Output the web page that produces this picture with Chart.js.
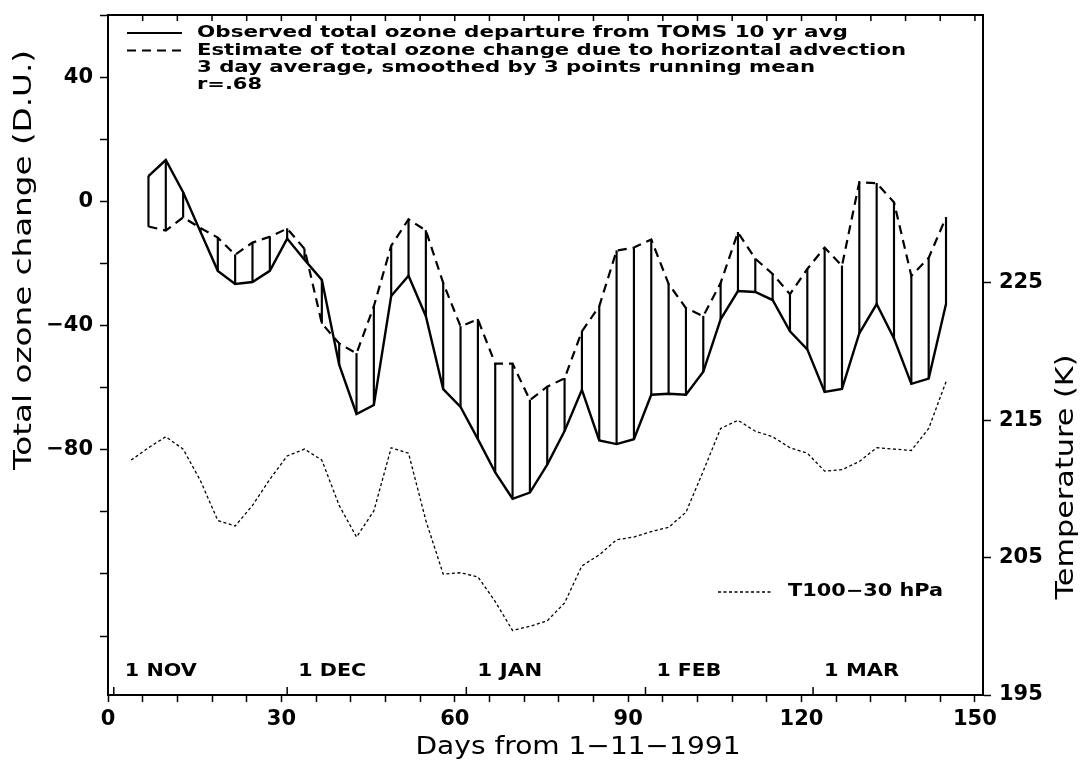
<!DOCTYPE html>
<html><head><meta charset="utf-8">
<script src="https://cdn.jsdelivr.net/npm/chart.js@4.4.1/dist/chart.umd.min.js"></script>
<style>html,body{margin:0;padding:0;background:#fff;} canvas{display:block;}</style>
</head><body>
<canvas id="c" width="1083" height="763" style="width:1083px;height:763px"></canvas>
<script>
// ---------- data ----------
const ozoneDays = [7,10,13,16,19,22,25,28,31,34,37,40,43,46,49,52,55,58,61,64,67,70,73,76,79,82,85,88,91,94,97,100,103,106,109,112,115,118,121,124,127,130,133,136,139,142,145];
const observed = [8.1,13.3,2.9,-9.8,-22.4,-26.6,-26,-22.4,-12,-18.8,-25.3,-52.6,-68.5,-65.6,-30.5,-24,-37,-60.5,-66.2,-76.6,-87.3,-95.8,-93.8,-84.8,-74,-60.7,-77,-78.2,-76.6,-62.3,-62,-62.3,-54.9,-38,-28.9,-29.2,-31.8,-41.9,-47.7,-61.4,-60.4,-42.5,-33.1,-44.2,-58.8,-57.1,-33.1];
const estimate = [-8.1,-9.4,-5.2,-8.6,-11.7,-17.2,-13.3,-11.4,-8.8,-15.3,-39.3,-45.8,-49,-33.8,-14.3,-5.8,-9.4,-26.3,-40.3,-38,-52.3,-52.3,-64,-59.7,-57,-41.9,-33.8,-15.9,-14.9,-12.3,-26.6,-34.4,-37,-26.3,-10,-18.5,-23.4,-29.9,-21.8,-14.9,-20.8,6.2,5.8,-0.3,-24,-18.2,-5.2];
const tempDays = [4,7,10,13,16,19,22,25,28,31,34,37,40,43,46,49,52,55,58,61,64,67,70,73,76,79,82,85,88,91,94,97,100,103,106,109,112,115,118,121,124,127,130,133,136,139,142,145];
const temperature = [212.1,213.0,213.8,212.9,210.6,207.7,207.3,208.8,210.7,212.4,212.9,212.1,208.8,206.5,208.4,213.0,212.6,207.7,203.8,203.9,203.6,201.8,199.7,200.0,200.4,201.7,204.4,205.2,206.3,206.5,206.9,207.2,208.3,211.3,214.4,215.0,214.2,213.8,213.0,212.6,211.3,211.4,212.0,213.0,212.9,212.8,214.4,217.8];

const xTickValues = [0,6,12,18,24,30,36,42,48,54,60,66,72,78,84,90,96,102,108,114,120,126,132,138,144,150];
const xLabelValues = [0,30,60,90,120,150];
const leftTickValues = [-140,-120,-100,-80,-60,-40,-20,0,20,40,60];
const leftLabelValues = [-80,-40,0,40];
const rightTickValues = [195,205,215,225];
const monthDays = [1,31,62,93,122];
const monthLabels = ['1 NOV','1 DEC','1 JAN','1 FEB','1 MAR'];
const legendLines = [
  'Observed total ozone departure from TOMS 10 yr avg',
  'Estimate of total ozone change due to horizontal advection',
  '3 day average, smoothed by 3 points running mean',
  'r=.68'
];
const tempLegend = 'T100\u221230 hPa';
const xTitle = 'Days from 1\u221211\u22121991';
const yTitle = 'Total ozone change (D.U.)';
const y2Title = 'Temperature (K)';

// ---------- helpers ----------
const FONT = '"DejaVu Sans", sans-serif';
function fmt(v){ return v < 0 ? '\u2212' + Math.abs(v) : String(v); }
function drawText(ctx, text, x, y, size, targetW, align, rot, weight){
  ctx.save();
  ctx.font = (weight || 'normal') + ' ' + size + 'px ' + FONT;
  const w = ctx.measureText(text).width;
  const sx = targetW ? targetW / w : 1;
  ctx.translate(x, y);
  if (rot) ctx.rotate(rot);
  ctx.scale(sx, 1);
  ctx.textAlign = align || 'left';
  ctx.textBaseline = 'middle';
  ctx.fillStyle = '#000';
  ctx.fillText(text, 0, 0);
  ctx.restore();
}

const extras = {
  id: 'extras',
  beforeDraw(chart){
    const c = chart.ctx; c.save(); c.fillStyle = '#fff'; c.fillRect(0,0,chart.width,chart.height); c.restore();
  },
  afterDraw(chart){
    const ctx = chart.ctx, ca = chart.chartArea, x = chart.scales.x;
    ctx.save();
    ctx.strokeStyle = '#000';
    // top frame
    ctx.lineWidth = 2;
    ctx.beginPath(); ctx.moveTo(ca.left-1, ca.top); ctx.lineTo(ca.right+1, ca.top); ctx.stroke();
    // top inward ticks
    ctx.lineWidth = 1.5;
    ctx.beginPath();
    xTickValues.forEach(v => { const px = x.getPixelForValue(v); ctx.moveTo(px, ca.top); ctx.lineTo(px, ca.top + 6); });
    // month ticks (inward from bottom)
    monthDays.forEach(d => { const px = x.getPixelForValue(d); ctx.moveTo(px, ca.bottom); ctx.lineTo(px, ca.bottom - 8); });
    ctx.stroke();
    // month labels
    monthDays.forEach((d,i) => {
      const px = x.getPixelForValue(d);
      drawText(ctx, monthLabels[i], px + 11, ca.bottom - 23, 17, [72,68,65,65,75][i], 'left', 0, 'bold');
    });
    // legend (top)
    ctx.lineWidth = 2;
    ctx.setLineDash([]);
    ctx.beginPath(); ctx.moveTo(127, 33); ctx.lineTo(182, 33); ctx.stroke();
    ctx.setLineDash([9,6]);
    ctx.beginPath(); ctx.moveTo(127, 50.5); ctx.lineTo(182, 50.5); ctx.stroke();
    ctx.setLineDash([]);
    const ly = [33, 50.5, 68, 85], lw = [651, 709, 618, 65];
    legendLines.forEach((t,i) => drawText(ctx, t, 197, ly[i], 16, lw[i], 'left', 0, 'bold'));
    // temperature legend
    ctx.lineWidth = 1.3;
    ctx.setLineDash([3,2.5]);
    ctx.beginPath(); ctx.moveTo(718, 592); ctx.lineTo(772, 592); ctx.stroke();
    ctx.setLineDash([]);
    drawText(ctx, tempLegend, 788, 592, 17, 155, 'left', 0, 'bold');
    // axis titles
    drawText(ctx, xTitle, 578, 747, 25, 325, 'center');
    drawText(ctx, yTitle, 24, 260, 25, 420, 'center', -Math.PI/2);
    drawText(ctx, y2Title, 1066, 477, 25, 245, 'center', -Math.PI/2);
    ctx.restore();
  }
};

Chart.defaults.font.family = FONT;
Chart.defaults.color = '#000';

const hatch = ozoneDays.map((d,i) => ({x: d, y: [estimate[i], observed[i]]}));
const zeroPad = s => { s.paddingTop = 0; s.paddingBottom = 0; s.paddingLeft = 0; s.paddingRight = 0; };

new Chart(document.getElementById('c'), {
  type: 'line',
  data: {
    datasets: [
      { type: 'bar', label: 'diff', data: hatch, backgroundColor: '#000', borderWidth: 0, barThickness: 1.5, yAxisID: 'y', order: 3 },
      { label: 'Observed', data: ozoneDays.map((d,i)=>({x:d, y:observed[i]})), borderColor: '#000', borderWidth: 2.4, pointRadius: 0, tension: 0, yAxisID: 'y', order: 1 },
      { label: 'Estimate', data: ozoneDays.map((d,i)=>({x:d, y:estimate[i]})), borderColor: '#000', borderWidth: 2.2, borderDash: [9,6], pointRadius: 0, tension: 0, yAxisID: 'y', order: 2 },
      { label: 'T100-30 hPa', data: tempDays.map((d,i)=>({x:d, y:temperature[i]})), borderColor: '#000', borderWidth: 1.3, borderDash: [3,2.5], pointRadius: 0, tension: 0, yAxisID: 'y2', order: 4 }
    ]
  },
  options: {
    responsive: false, devicePixelRatio: 1, animation: false,
    layout: { padding: { top: 15, left: 0, right: 0, bottom: 0 } },
    plugins: { legend: { display: false }, tooltip: { enabled: false } },
    scales: {
      x: {
        type: 'linear', position: 'bottom', min: 0, max: 151.4, offset: false,
        afterBuildTicks: a => { a.ticks = xTickValues.map(v => ({value: v})); },
        afterFit: s => { s.height = 68; zeroPad(s); },
        ticks: { autoSkip: false, maxRotation: 0, padding: 5, font: { size: 21, weight: 'bold' }, color: '#000',
                 callback: v => xLabelValues.includes(v) ? String(v) : '' },
        grid: { offset: false, drawOnChartArea: false, drawTicks: true, tickLength: 7, tickWidth: 1.5, tickColor: '#000' },
        border: { display: true, color: '#000', width: 2 }
      },
      y: {
        type: 'linear', position: 'left', min: -159, max: 60,
        afterBuildTicks: a => { a.ticks = leftTickValues.map(v => ({value: v})); },
        afterFit: s => { s.width = 108; zeroPad(s); },
        ticks: { autoSkip: false, padding: 7, font: { size: 21, weight: 'bold' }, color: '#000',
                 callback: v => leftLabelValues.includes(v) ? fmt(v) : '' },
        grid: { drawOnChartArea: false, drawTicks: true, tickLength: 8, tickWidth: 1.5, tickColor: '#000' },
        border: { display: true, color: '#000', width: 2 }
      },
      y2: {
        type: 'linear', position: 'right', min: 195, max: 244.5,
        afterBuildTicks: a => { a.ticks = rightTickValues.map(v => ({value: v})); },
        afterFit: s => { s.width = 100; zeroPad(s); },
        ticks: { autoSkip: false, padding: 8, font: { size: 21, weight: 'bold' }, color: '#000', callback: v => fmt(v) },
        grid: { drawOnChartArea: false, drawTicks: true, tickLength: 8, tickWidth: 1.5, tickColor: '#000' },
        border: { display: true, color: '#000', width: 2 }
      }
    }
  },
  plugins: [extras]
});
</script>
</body></html>
